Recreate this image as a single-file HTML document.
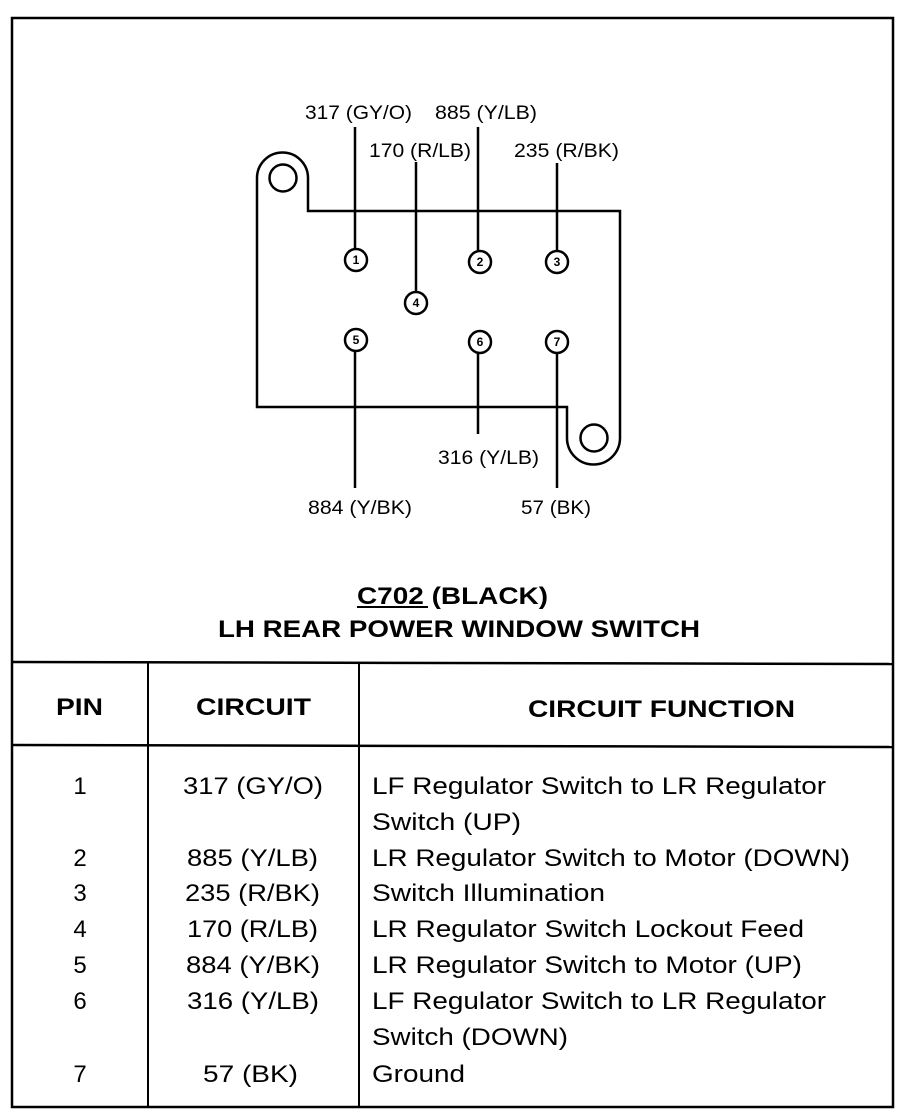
<!DOCTYPE html>
<html><head><style>
html,body{margin:0;padding:0;background:#fff;}
svg{display:block;}
text{font-family:"Liberation Sans",Arial,sans-serif;fill:#000;}
</style></head><body>
<svg width="912" height="1118" viewBox="0 0 912 1118" xmlns="http://www.w3.org/2000/svg">
<rect x="0" y="0" width="912" height="1118" fill="#fff"/>
<rect x="12" y="18" width="881" height="1089" fill="none" stroke="#000" stroke-width="2.5"/>
<line x1="12" y1="662" x2="893" y2="664" stroke="#000" stroke-width="2.5"/>
<line x1="12" y1="745" x2="893" y2="747" stroke="#000" stroke-width="2.5"/>
<line x1="148" y1="662" x2="148" y2="1107" stroke="#000" stroke-width="2"/>
<line x1="359" y1="662" x2="359" y2="1107" stroke="#000" stroke-width="2"/>

<g fill="none" stroke="#000" stroke-width="2.5">
<path d="M257,407 L257,178 A25.5,25.5 0 0 1 308,178 L308,211 L620,211 L620,438 A26.5,26.5 0 0 1 567,438 L567,407 Z"/>
<circle cx="283" cy="178" r="13.5"/>
<circle cx="594" cy="438" r="13.5"/>
<line x1="355" y1="127" x2="355" y2="249"/>
<line x1="416" y1="162" x2="416" y2="291"/>
<line x1="478" y1="127" x2="478" y2="250"/>
<line x1="557" y1="163" x2="557" y2="250"/>
<line x1="355" y1="352" x2="355" y2="488"/>
<line x1="478" y1="352" x2="478" y2="434"/>
<line x1="557" y1="352" x2="557" y2="488"/>
<circle cx="356" cy="260" r="11" fill="#fff"/>
<circle cx="480" cy="262" r="11" fill="#fff"/>
<circle cx="557" cy="262" r="11" fill="#fff"/>
<circle cx="416" cy="303" r="11" fill="#fff"/>
<circle cx="356" cy="340" r="11" fill="#fff"/>
<circle cx="480" cy="342" r="11" fill="#fff"/>
<circle cx="557" cy="342" r="11" fill="#fff"/>
</g>
<g font-size="12" font-weight="bold" text-anchor="middle">
<text x="356" y="264">1</text>
<text x="480" y="266">2</text>
<text x="557" y="266">3</text>
<text x="416" y="307">4</text>
<text x="356" y="344">5</text>
<text x="480" y="346">6</text>
<text x="557" y="346">7</text>
</g>
<g font-size="19">
<text x="305" y="119" textLength="107" lengthAdjust="spacingAndGlyphs">317 (GY/O)</text>
<text x="435" y="119" textLength="102" lengthAdjust="spacingAndGlyphs">885 (Y/LB)</text>
<text x="369" y="157" textLength="102" lengthAdjust="spacingAndGlyphs">170 (R/LB)</text>
<text x="514" y="157" textLength="105" lengthAdjust="spacingAndGlyphs">235 (R/BK)</text>
<text x="438" y="464" textLength="101" lengthAdjust="spacingAndGlyphs">316 (Y/LB)</text>
<text x="308" y="514" textLength="104" lengthAdjust="spacingAndGlyphs">884 (Y/BK)</text>
<text x="521" y="514" textLength="70" lengthAdjust="spacingAndGlyphs">57 (BK)</text>
</g>
<g font-size="24" font-weight="bold">
<text x="357" y="604" textLength="191" lengthAdjust="spacingAndGlyphs">C702 (BLACK)</text>
<text x="218" y="637" textLength="482" lengthAdjust="spacingAndGlyphs">LH REAR POWER WINDOW SWITCH</text>
<text x="56" y="715" textLength="47" lengthAdjust="spacingAndGlyphs">PIN</text>
<text x="196" y="715" textLength="115" lengthAdjust="spacingAndGlyphs">CIRCUIT</text>
<text x="528" y="717" textLength="267" lengthAdjust="spacingAndGlyphs">CIRCUIT FUNCTION</text>
</g>
<line x1="357" y1="607" x2="428" y2="607" stroke="#000" stroke-width="2"/>
<g font-size="24" text-anchor="middle">
<text x="80" y="794">1</text>
<text x="80" y="866">2</text>
<text x="80" y="901">3</text>
<text x="80" y="937">4</text>
<text x="80" y="973">5</text>
<text x="80" y="1009">6</text>
<text x="80" y="1082">7</text>
</g>
<g font-size="24">
<text x="183" y="794" textLength="140" lengthAdjust="spacingAndGlyphs">317 (GY/O)</text>
<text x="187" y="866" textLength="131" lengthAdjust="spacingAndGlyphs">885 (Y/LB)</text>
<text x="185" y="901" textLength="135" lengthAdjust="spacingAndGlyphs">235 (R/BK)</text>
<text x="187" y="937" textLength="131" lengthAdjust="spacingAndGlyphs">170 (R/LB)</text>
<text x="186" y="973" textLength="134" lengthAdjust="spacingAndGlyphs">884 (Y/BK)</text>
<text x="187" y="1009" textLength="132" lengthAdjust="spacingAndGlyphs">316 (Y/LB)</text>
<text x="203" y="1082" textLength="95" lengthAdjust="spacingAndGlyphs">57 (BK)</text>
<text x="372" y="794" textLength="454" lengthAdjust="spacingAndGlyphs">LF Regulator Switch to LR Regulator</text>
<text x="372" y="830" textLength="149" lengthAdjust="spacingAndGlyphs">Switch (UP)</text>
<text x="372" y="866" textLength="478" lengthAdjust="spacingAndGlyphs">LR Regulator Switch to Motor (DOWN)</text>
<text x="372" y="901" textLength="233" lengthAdjust="spacingAndGlyphs">Switch Illumination</text>
<text x="372" y="937" textLength="432" lengthAdjust="spacingAndGlyphs">LR Regulator Switch Lockout Feed</text>
<text x="372" y="973" textLength="430" lengthAdjust="spacingAndGlyphs">LR Regulator Switch to Motor (UP)</text>
<text x="372" y="1009" textLength="454" lengthAdjust="spacingAndGlyphs">LF Regulator Switch to LR Regulator</text>
<text x="372" y="1045" textLength="196" lengthAdjust="spacingAndGlyphs">Switch (DOWN)</text>
<text x="372" y="1082" textLength="93" lengthAdjust="spacingAndGlyphs">Ground</text>
</g>
</svg>
</body></html>
